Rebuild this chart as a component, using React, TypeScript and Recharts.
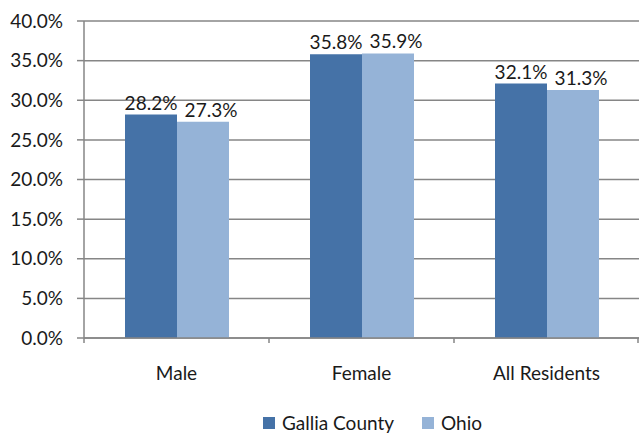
import React from "react";
import { BarChart, Bar, XAxis, YAxis, CartesianGrid, Legend, LabelList } from "recharts";

const categories = ["Male", "Female", "All Residents"];
const galliaCounty = [28.2, 35.8, 32.1];
const ohio = [27.3, 35.9, 31.3];
const yTicks = [0, 5, 10, 15, 20, 25, 30, 35, 40];
const seriesNames = ["Gallia County", "Ohio"];
const colors = ["#4572A7", "#95B3D7"];

const data = categories.map((c, i) => ({ name: c, gallia: galliaCounty[i], ohio: ohio[i] }));

const W = 639;
const H = 433;
const Y_W = 84;
const HALF = (W - Y_W) / categories.length / 2;
const FONT = "Lato, 'Open Sans', sans-serif";
const FS = 19;

const fmt = (v: number) => `${Number(v).toFixed(1)}%`;

const XTick = (props: any) => {
  const { x, y, payload, index } = props;
  const last = index === categories.length - 1;
  return (
    <g>
      <line x1={x - HALF} y1={y} x2={x - HALF} y2={y + 5} stroke="#868686" strokeWidth={1.5} />
      {last && <line x1={x + HALF - 1} y1={y} x2={x + HALF - 1} y2={y + 5} stroke="#868686" strokeWidth={1.5} />}
      <text x={x} y={y + 34} textAnchor="middle" dominantBaseline="central" fontSize={FS} fill="#1a1a1a" fontFamily={FONT}>
        {payload.value}
      </text>
    </g>
  );
};

const LegendContent = () => (
  <div style={{ display: "flex", justifyContent: "flex-start", paddingLeft: 263, paddingTop: 17, fontFamily: FONT, fontSize: FS, color: "#1a1a1a", lineHeight: "16px" }}>
    {seriesNames.map((n, i) => (
      <div key={n} style={{ display: "flex", alignItems: "center", marginRight: i === 0 ? 28 : 0 }}>
        <span style={{ display: "inline-block", width: 12, height: 12, background: colors[i], marginRight: 7 }} />
        <span>{n}</span>
      </div>
    ))}
  </div>
);

export default function App() {
  return (
    <div style={{ position: "absolute", left: 0, top: 0, width: W, height: H, background: "#fff" }}>
      <BarChart width={W} height={H} data={data} margin={{ top: 21, right: 0, left: 0, bottom: 0 }} barGap={0} barSize={52}>
        <CartesianGrid vertical={false} stroke="#868686" strokeWidth={1.5} />
        <XAxis
          dataKey="name"
          height={60}
          axisLine={{ stroke: "#868686", strokeWidth: 1.5 }}
          tickLine={false}
          tickSize={0}
          tickMargin={0}
          tick={<XTick />}
          interval={0}
        />
        <YAxis
          width={Y_W}
          domain={[0, 40]}
          ticks={yTicks}
          tickFormatter={fmt}
          axisLine={{ stroke: "#868686", strokeWidth: 1.5 }}
          tickLine={{ stroke: "#868686", strokeWidth: 1.5 }}
          tickSize={7}
          tickMargin={14}
          tick={{ fontSize: FS, fill: "#1a1a1a", fontFamily: FONT }}
          interval={0}
        />
        <Legend verticalAlign="bottom" height={35} content={<LegendContent />} />
        <Bar dataKey="gallia" name={seriesNames[0]} fill={colors[0]} isAnimationActive={false}>
          <LabelList dataKey="gallia" position="top" formatter={fmt} style={{ fontSize: FS, fill: "#1a1a1a", fontFamily: FONT }} />
        </Bar>
        <Bar dataKey="ohio" name={seriesNames[1]} fill={colors[1]} isAnimationActive={false}>
          <LabelList dataKey="ohio" position="top" dx={8} formatter={fmt} style={{ fontSize: FS, fill: "#1a1a1a", fontFamily: FONT }} />
        </Bar>
      </BarChart>
    </div>
  );
}
